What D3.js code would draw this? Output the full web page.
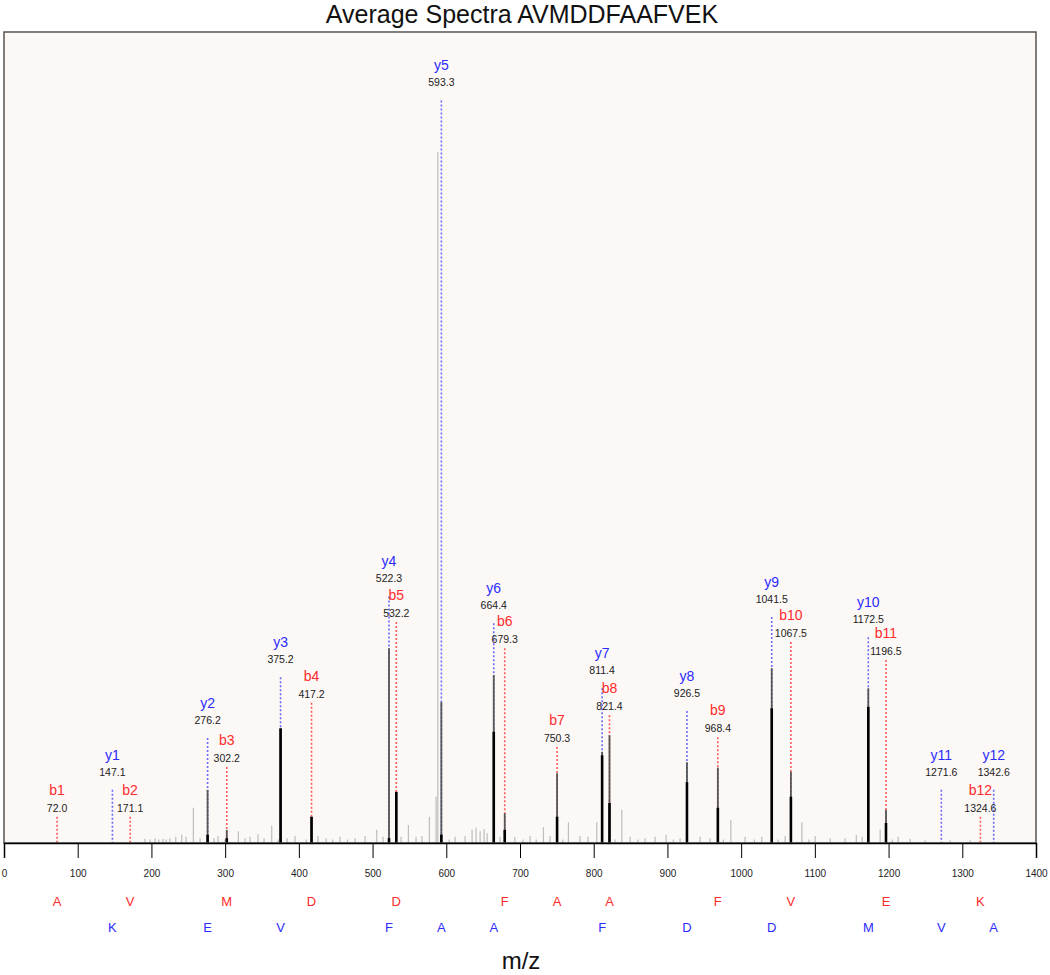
<!DOCTYPE html>
<html>
<head>
<meta charset="utf-8">
<script src="https://cdn.jsdelivr.net/npm/d3@7"></script>
<style>
  html, body { margin: 0; padding: 0; background: #ffffff; }
  svg { display: block; font-family: "Liberation Sans", Arial, sans-serif; }
</style>
</head>
<body>
<svg id="chart" width="1050" height="975"></svg>
<script>
// ---------------- DATA ----------------
const titleText = "Average Spectra AVMDDFAAFVEK";
const xLabel = "m/z";
const xTicks = [0, 100, 200, 300, 400, 500, 600, 700, 800, 900, 1000, 1100, 1200, 1300, 1400];

// b-ion annotations
const bNames  = ["b1", "b2", "b3", "b4", "b5", "b6", "b7", "b8", "b9", "b10", "b11", "b12"];
const bMz     = [72.0, 171.1, 302.2, 417.2, 532.2, 679.3, 750.3, 821.4, 968.4, 1067.5, 1196.5, 1324.6];
const bLevel  = [3.8, 3.8, 11.0, 20.3, 32.0, 28.2, 13.9, 18.5, 15.3, 29.1, 26.5, 3.8];
const bResidues = ["A", "V", "M", "D", "D", "F", "A", "A", "F", "V", "E", "K"];

// y-ion annotations
const yNames  = ["y1", "y2", "y3", "y4", "y5", "y6", "y7", "y8", "y9", "y10", "y11", "y12"];
const yMz     = [147.1, 276.2, 375.2, 522.3, 593.3, 664.4, 811.4, 926.5, 1041.5, 1172.5, 1271.6, 1342.6];
const yLevel  = [7.7, 15.2, 24.0, 35.7, 107.5, 31.8, 22.4, 19.1, 32.7, 29.8, 7.7, 7.7];
const yResidues = ["K", "E", "V", "F", "A", "A", "F", "D", "D", "M", "V", "A"];

// matched fragment peaks: m/z, dark-gray intensity, black intensity
const peakMz    = [276.2, 302.2, 375.2, 417.2, 522.3, 532.2, 593.3, 664.4, 679.3, 750.3, 811.4, 821.4, 926.5, 968.4, 1041.5, 1067.5, 1172.5, 1196.5];
const peakGray  = [7.7, 1.9, 16.6, 3.8, 28.2, 7.4, 20.4, 24.3, 4.3, 10.1, 13.2, 15.6, 11.7, 10.9, 25.3, 10.3, 22.4, 4.8];
const peakBlack = [1.2, 0.7, 16.6, 3.8, 0.7, 7.4, 1.2, 16.1, 1.9, 3.8, 12.7, 5.8, 8.8, 5.1, 19.5, 6.7, 19.7, 2.9];

// unmatched (light gray) spectrum peaks: m/z, intensity
const noiseMz = [191.3, 198.0, 204.9, 210.0, 215.7, 220.0, 225.0, 233.0, 241.1, 247.0, 256.9, 266.0, 285.0, 290.4, 300.0, 317.9, 327.0, 333.8, 344.6, 352.8, 363.2, 372.0, 384.0, 394.8, 410.0, 426.0, 437.0, 446.0, 455.9, 466.0, 476.3, 489.8, 505.7, 514.2, 538.7, 548.6, 559.0, 567.0, 577.1, 586.2, 588.5, 604.0, 612.0, 625.5, 635.0, 640.4, 645.9, 651.3, 655.4, 673.0, 693.0, 704.0, 713.7, 722.0, 731.8, 740.8, 758.0, 765.7, 781.5, 792.4, 804.2, 829.0, 838.1, 849.4, 860.0, 869.7, 883.3, 898.2, 908.0, 917.2, 944.4, 957.9, 976.0, 986.0, 1005.4, 1018.0, 1028.0, 1050.0, 1059.7, 1082.4, 1092.0, 1100.4, 1120.8, 1141.1, 1156.2, 1164.2, 1188.6, 1205.0, 1213.0, 1229.3, 1249.7, 1283.6, 1310.7];
const noiseInt = [0.6, 0.5, 0.7, 0.5, 0.6, 0.5, 0.7, 0.9, 1.2, 0.9, 5.1, 0.7, 0.7, 1.0, 0.5, 1.7, 0.7, 0.9, 1.3, 0.7, 2.5, 0.5, 0.7, 1.0, 0.5, 1.0, 0.7, 0.5, 0.9, 0.5, 0.7, 1.0, 1.9, 0.9, 0.9, 2.6, 0.9, 1.0, 3.8, 6.7, 100.0, 0.5, 0.9, 1.0, 1.9, 2.2, 1.7, 2.0, 1.4, 0.9, 0.9, 0.5, 1.0, 0.5, 2.3, 1.0, 0.5, 3.0, 1.0, 0.9, 3.0, 0.5, 4.8, 0.9, 0.5, 0.7, 0.9, 1.2, 0.5, 0.7, 0.9, 0.7, 0.5, 3.3, 0.9, 0.5, 0.9, 0.5, 1.0, 3.0, 0.5, 1.0, 0.7, 0.7, 1.2, 0.9, 1.9, 0.5, 0.9, 0.6, 0.4, 0.4, 0.4];

// ---------------- DRAW ----------------
const svg = d3.select("#chart");
const plot = { left: 4, right: 1036, top: 32, bottom: 843 };

const x = d3.scaleLinear().domain([0, 1400]).range([plot.left, plot.right]);
const y = d3.scaleLinear().domain([0, 117.4]).range([plot.bottom, plot.top]);

const RED = "#ff2b2b", BLUE = "#2b2bff";
const RED_DOT = "#ff5a5a", BLUE_DOT = "#6a6aff";

// background panel
svg.append("rect")
  .attr("x", plot.left).attr("y", plot.top)
  .attr("width", plot.right - plot.left).attr("height", plot.bottom - plot.top)
  .attr("fill", "#fcf8f6");

// title
svg.append("text")
  .attr("x", 522).attr("y", 23)
  .attr("text-anchor", "middle")
  .attr("font-size", 25)
  .attr("fill", "#111")
  .text(titleText);

// noise peaks
const noise = noiseMz.map((m, i) => ({ mz: m, v: noiseInt[i] }));
svg.append("g").selectAll("line").data(noise).join("line")
  .attr("x1", d => x(d.mz)).attr("x2", d => x(d.mz))
  .attr("y1", y(0)).attr("y2", d => y(d.v))
  .attr("stroke", "#bdbdbd").attr("stroke-width", 1.2);

// annotations
const bIons = bNames.map((n, i) => ({ name: n, mz: bMz[i], lvl: bLevel[i], type: "b" }));
const yIons = yNames.map((n, i) => ({ name: n, mz: yMz[i], lvl: yLevel[i], type: "y" }));
const ions = bIons.concat(yIons);

const annot = svg.append("g");
annot.selectAll("line").data(ions).join("line")
  .attr("x1", d => x(d.mz)).attr("x2", d => x(d.mz))
  .attr("y1", d => y(d.lvl)).attr("y2", y(0))
  .attr("stroke", d => d.type === "b" ? RED_DOT : BLUE_DOT)
  .attr("stroke-width", 1.6)
  .attr("stroke-dasharray", "2,2");

// peaks
const peaks = peakMz.map((m, i) => ({ mz: m, g: peakGray[i], k: peakBlack[i] }));
svg.append("g").selectAll("line").data(peaks).join("line")
  .attr("x1", d => x(d.mz)).attr("x2", d => x(d.mz))
  .attr("y1", y(0)).attr("y2", d => y(d.g))
  .attr("stroke", "#555").attr("stroke-width", 1.8);
svg.append("g").selectAll("line").data(peaks).join("line")
  .attr("x1", d => x(d.mz)).attr("x2", d => x(d.mz))
  .attr("y1", y(0)).attr("y2", d => y(d.k))
  .attr("stroke", "#000").attr("stroke-width", 2.6);

// labels
const lab = svg.append("g");
lab.selectAll("text.name").data(ions).join("text")
  .attr("class", "name")
  .attr("x", d => x(d.mz))
  .attr("y", d => y(d.lvl) - (d.type === "y" ? 35 : 27))
  .attr("text-anchor", "middle")
  .attr("dominant-baseline", "central")
  .attr("font-size", 14)
  .attr("fill", d => d.type === "b" ? RED : BLUE)
  .text(d => d.name);
lab.selectAll("text.val").data(ions).join("text")
  .attr("class", "val")
  .attr("x", d => x(d.mz))
  .attr("y", d => y(d.lvl) - (d.type === "y" ? 18 : 9))
  .attr("text-anchor", "middle")
  .attr("dominant-baseline", "central")
  .attr("font-size", 10.5)
  .attr("fill", "#222")
  .text(d => d.mz.toFixed(1));

// frame
svg.append("rect")
  .attr("x", plot.left).attr("y", plot.top)
  .attr("width", plot.right - plot.left).attr("height", plot.bottom - plot.top)
  .attr("fill", "none").attr("stroke", "#555").attr("stroke-width", 1.5);

// x axis
const axis = d3.axisBottom(x).tickValues(xTicks).tickSize(15).tickPadding(12).tickFormat(d3.format("d"));
const gx = svg.append("g").attr("transform", `translate(0,${plot.bottom})`).call(axis);
gx.select(".domain").attr("stroke", "#000").attr("stroke-width", 1.5);
gx.selectAll(".tick line").attr("stroke", "#000");
gx.selectAll(".tick text").attr("font-size", 10).attr("fill", "#222")
  .attr("font-family", "'Liberation Sans', Arial, sans-serif");

// residue letters
svg.append("g").selectAll("text").data(bIons).join("text")
  .attr("x", d => x(d.mz)).attr("y", 901)
  .attr("text-anchor", "middle").attr("dominant-baseline", "central")
  .attr("font-size", 13).attr("fill", RED)
  .text((d, i) => bResidues[i]);
svg.append("g").selectAll("text").data(yIons).join("text")
  .attr("x", d => x(d.mz)).attr("y", 927)
  .attr("text-anchor", "middle").attr("dominant-baseline", "central")
  .attr("font-size", 13).attr("fill", BLUE)
  .text((d, i) => yResidues[i]);

// x label
svg.append("text")
  .attr("x", 521).attr("y", 960)
  .attr("text-anchor", "middle").attr("dominant-baseline", "central")
  .attr("font-size", 24).attr("fill", "#111")
  .text(xLabel);
</script>
</body>
</html>
